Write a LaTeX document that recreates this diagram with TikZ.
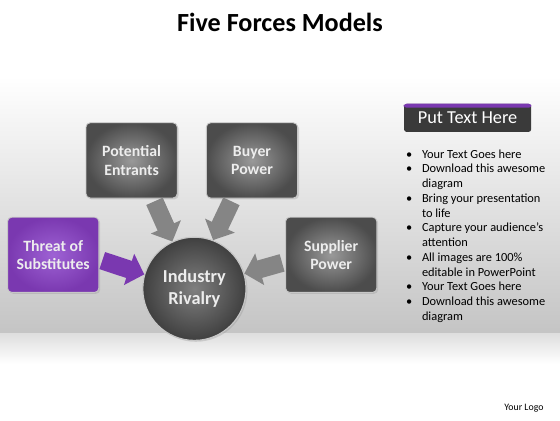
\documentclass[tikz,border=0pt]{standalone}
\usepackage{fontspec}
\setmainfont{Carlito}
\usetikzlibrary{positioning, shapes, shadows, arrows.meta}
\definecolor{lila}{RGB}{122,56,176}
\definecolor{lilahell}{RGB}{158,98,212}
\definecolor{dunkel}{RGB}{58,58,58}
\tikzset{
    kasten/.style={
        rectangle,
        rounded corners=3pt,
        draw=black!22,       % helle Kontur
        line width=0.6pt,
        inner color=black!40,
        outer color=black!70,
        minimum width=2.28cm,
        minimum height=1.88cm,
        text=black!7,
        align=center,
        font=\bfseries\fontsize{11.2}{13}\selectfont,
        drop shadow={opacity=0.25, shadow xshift=1pt, shadow yshift=-1pt}
    },
    kastenlila/.style={
        kasten,
        inner color=lilahell,
        outer color=lila
    },
    kreis/.style={
        circle,
        draw=black!22,
        line width=0.8pt,
        inner color=black!50,
        outer color=black!75,
        minimum size=2.58cm,
        text=black!7,
        align=center,
        font=\bfseries\fontsize{13}{15.4}\selectfont,
        drop shadow={opacity=0.25, shadow xshift=1pt, shadow yshift=-1pt}
    },
    pfeil/.style={
        draw=black!48,
        line width=0.45cm,
        -{Triangle[length=0.4cm, width=0.8cm]},
        shorten <=0.08cm
    }
}

\begin{document}
\begin{tikzpicture}

    % Hintergrund mit grauem Verlauf
    \useasboundingbox (0,0) rectangle (14,10.5);
    \fill[white] (0,0) rectangle (14,10.5);
    \shade[top color=white, bottom color=black!23] (0,8.6) rectangle (14,2.175);
    \shade[top color=black!13, bottom color=white] (0,2.175) rectangle (14,1.4);

    % Titel
    \node[anchor=base, font=\bfseries\fontsize{18.6}{22}\selectfont] (titel) at (7,9.72) {Five Forces Models};

    % Die vier Kräfte
    \node[kasten] (K1) at (3.29,6.49) {Potential\\Entrants};
    \node[kasten] (K2) at (6.30,6.49) {Buyer\\Power};
    \node[kastenlila] (K3) at (1.33,4.13) {Threat of\\Substitutes};
    \node[kasten] (K4) at (8.28,4.13) {Supplier\\Power};

    % Zentrum
    \node[kreis] (Z) at (4.86,3.28) {Industry\\Rivalry};

    % Blockpfeile zum Zentrum
    \draw[pfeil] ([xshift=0.54cm]K1.south) -- (Z.115);
    \draw[pfeil] ([xshift=-0.48cm]K2.south) -- (Z.69);
    \draw[pfeil, draw=lila] ([yshift=-0.12cm]K3.east) -- (Z.164);
    \draw[pfeil] ([yshift=-0.18cm]K4.west) -- (Z.17);

    % Textfeld rechts
    \node[rectangle, rounded corners=2pt, fill=dunkel, text=white,
          minimum width=3.18cm, minimum height=0.7cm,
          font=\fontsize{13}{15}\selectfont] (T) at (11.69,7.55) {Put Text Here};
    \fill[lila, rounded corners=2pt] (T.north west) rectangle ([yshift=-0.1cm]T.north east);

    \node[below right=0.38cm and 0.05cm of T.south west, inner sep=0pt,
          font=\fontsize{8.8}{10.5}\selectfont] (L) {%
        \begin{tabular}{@{}p{0.4cm}@{}l@{}}
            \textbullet & Your Text Goes here\\
            \textbullet & Download this awesome\\
                        & diagram\\
            \textbullet & Bring your presentation\\
                        & to life\\
            \textbullet & Capture your audience’s\\
                        & attention\\
            \textbullet & All images are 100\%\\
                        & editable in PowerPoint\\
            \textbullet & Your Text Goes here\\
            \textbullet & Download this awesome\\
                        & diagram
        \end{tabular}};

    % Logo
    \node[anchor=base, font=\fontsize{7}{8}\selectfont] (logo) at (13.1,0.25) {Your Logo};

\end{tikzpicture}
\end{document}
